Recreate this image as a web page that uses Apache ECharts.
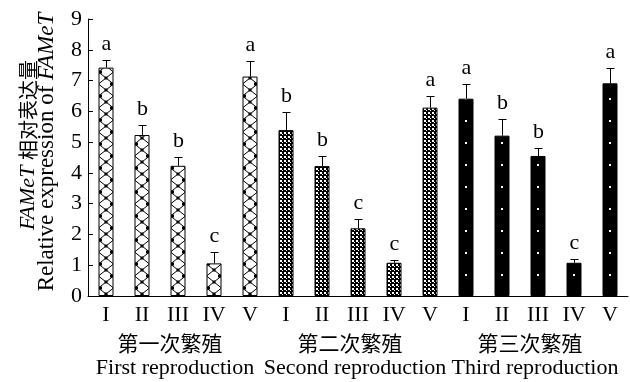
<!DOCTYPE html>
<html>
<head>
<meta charset="utf-8">
<script src="https://cdn.jsdelivr.net/npm/echarts@6/dist/echarts.min.js"></script>
<style>
  html, body { margin: 0; padding: 0; background: #fff; }
  #chart { width: 630px; height: 382px; }
</style>
</head>
<body>
<div id="chart"></div>
<script>
  var numerals = ['I', 'II', 'III', 'IV', 'V'];
  var groupsCn = ['第一次繁殖', '第二次繁殖', '第三次繁殖'];
  var groupsEn = ['First reproduction', 'Second reproduction', 'Third reproduction'];

  var firstVals = [7.42, 5.23, 4.23, 1.06, 7.13];
  var firstErr = [0.25, 0.33, 0.30, 0.38, 0.50];
  var firstSig = ['a', 'b', 'b', 'c', 'a'];

  var secondVals = [5.39, 4.22, 2.20, 1.08, 6.12];
  var secondErr = [0.60, 0.33, 0.30, 0.09, 0.38];
  var secondSig = ['b', 'b', 'c', 'c', 'a'];

  var thirdVals = [6.41, 5.21, 4.55, 1.08, 6.91];
  var thirdErr = [0.47, 0.53, 0.27, 0.12, 0.51];
  var thirdSig = ['a', 'b', 'b', 'c', 'a'];

  var serif = "'Liberation Serif', 'Times New Roman', 'Noto Sans CJK SC', serif";
  var cjk = "'Noto Sans CJK SC', sans-serif";

  // fill patterns, one per reproduction
  function tile(w, h, draw) {
    var c = document.createElement('canvas');
    c.width = w; c.height = h;
    draw(c.getContext('2d'));
    return c;
  }
  // bars repeat every 36px, left edge sits at 26.5 inside a 36px tile
  var lattice = tile(36, 24, function (ctx) {
    ctx.fillStyle = '#fff';
    ctx.fillRect(0, 0, 36, 24);
    ctx.strokeStyle = '#000';
    ctx.fillStyle = '#000';
    ctx.lineWidth = 1;
    [26.5, -9.5].forEach(function (ox) {
      ctx.beginPath();
      ctx.moveTo(ox, 0); ctx.lineTo(ox + 15, 12); ctx.lineTo(ox, 24);
      ctx.moveTo(ox + 15, 0); ctx.lineTo(ox, 12); ctx.lineTo(ox + 15, 24);
      ctx.stroke();
      ctx.fillRect(ox + 0.5, -1.5, 3, 3);
      ctx.fillRect(ox + 0.5, 22.5, 3, 3);
      ctx.fillRect(ox + 11.5, 10.5, 3, 3);
      ctx.fillRect(ox + 6, 4.5, 3, 3);
      ctx.fillRect(ox + 6, 16.5, 3, 3);
    });
  });
  var checker = tile(4, 4, function (ctx) {
    ctx.fillStyle = '#000';
    ctx.fillRect(0, 0, 4, 4);
    ctx.fillStyle = '#fff';
    ctx.fillRect(0, 0, 2, 2);
    ctx.fillRect(2, 2, 1, 1);
  });
  var dotted = tile(36, 22, function (ctx) {
    ctx.fillStyle = '#000';
    ctx.fillRect(0, 0, 36, 22);
    ctx.fillStyle = '#fff';
    ctx.fillRect(33, 10, 2, 2);
  });
  var fills = [
    { image: lattice, repeat: 'repeat' },
    { image: checker, repeat: 'repeat' },
    { image: dotted, repeat: 'repeat' }
  ];

  var groupVals = [firstVals, secondVals, thirdVals];
  var groupErr = [firstErr, secondErr, thirdErr];
  var groupSig = [firstSig, secondSig, thirdSig];

  var categories = [];
  var barData = [];
  var errData = [];
  var sigAll = [];
  groupVals.forEach(function (vals, g) {
    vals.forEach(function (v, i) {
      categories.push(numerals[i]);
      barData.push({ value: v, itemStyle: { color: fills[g] } });
      errData.push([categories.length - 1, v, groupErr[g][i]]);
      sigAll.push(groupSig[g][i]);
    });
  });

  var chart = echarts.init(document.getElementById('chart'));
  chart.setOption({
    animation: false,
    grid: { left: 88, right: 2, top: 19, bottom: 86, containLabel: false },
    xAxis: [
      {
        type: 'category',
        data: categories,
        axisLine: { lineStyle: { color: '#000', width: 1 } },
        axisTick: { inside: true, length: 5, lineStyle: { color: '#000' } },
        axisLabel: { color: '#000', fontFamily: serif, fontSize: 22, margin: 8, interval: 0 }
      },
      {
        type: 'category',
        data: groupsCn,
        position: 'bottom',
        offset: 27,
        axisLine: { show: false },
        axisTick: { show: false },
        axisLabel: {
          interval: 0,
          margin: 8,
          formatter: function (val, idx) {
            return '{cn|' + val + '}\n{en|' + groupsEn[idx] + '}';
          },
          rich: {
            cn: { fontFamily: cjk, fontSize: 21, lineHeight: 25, color: '#000', padding: [0, 16, 0, 0] },
            en: { fontFamily: serif, fontSize: 22, lineHeight: 25, color: '#000', padding: [0, 6, 0, 0] }
          }
        }
      }
    ],
    yAxis: {
      type: 'value',
      min: 0,
      max: 9,
      interval: 1,
      axisLine: { show: true, lineStyle: { color: '#000', width: 1 } },
      axisTick: { show: true, inside: true, length: 5, lineStyle: { color: '#000' } },
      axisLabel: { color: '#000', fontFamily: serif, fontSize: 22, margin: 6 },
      splitLine: { show: false }
    },
    graphic: [
      {
        type: 'text',
        x: 28,
        y: 230,
        rotation: Math.PI / 2,
        style: {
          text: 'FAMeT',
          align: 'left',
          verticalAlign: 'middle',
          fill: '#000',
          fontFamily: serif,
          fontStyle: 'italic',
          fontSize: 22
        }
      },
      {
        type: 'text',
        x: 28,
        y: 160,
        rotation: Math.PI / 2,
        style: {
          text: '相对表达量',
          align: 'left',
          verticalAlign: 'middle',
          fill: '#000',
          fontFamily: cjk,
          fontSize: 20
        }
      },
      {
        type: 'text',
        x: 47,
        y: 152,
        rotation: Math.PI / 2,
        style: {
          text: '{n|Relative expression of }{i|FAMeT}',
          align: 'center',
          verticalAlign: 'middle',
          fill: '#000',
          rich: {
            n: { fontFamily: serif, fontSize: 23, fill: '#000' },
            i: { fontFamily: serif, fontStyle: 'italic', fontSize: 23, fill: '#000' }
          }
        }
      }
    ],
    series: [
      {
        type: 'bar',
        data: barData,
        barWidth: 15,
        itemStyle: { borderColor: '#000', borderWidth: 1 }
      },
      {
        type: 'custom',
        data: errData,
        z: 5,
        renderItem: function (params, api) {
          var x = api.value(0), v = api.value(1), e = api.value(2);
          var base = api.coord([x, v]);
          var top = api.coord([x, v + e]);
          var cx = Math.round(base[0]) + 0.5;
          var ty = Math.round(top[1]) + 0.5;
          return {
            type: 'group',
            children: [
              { type: 'line', shape: { x1: cx, y1: base[1], x2: cx, y2: ty }, style: { stroke: '#000', lineWidth: 1 } },
              { type: 'line', shape: { x1: cx - 4, y1: ty, x2: cx + 4, y2: ty }, style: { stroke: '#000', lineWidth: 1 } },
              {
                type: 'text',
                style: {
                  text: sigAll[params.dataIndex],
                  x: cx,
                  y: ty - 5,
                  align: 'center',
                  verticalAlign: 'bottom',
                  fontFamily: serif,
                  fontSize: 22,
                  fill: '#000'
                }
              }
            ]
          };
        }
      }
    ]
  });
</script>
</body>
</html>
